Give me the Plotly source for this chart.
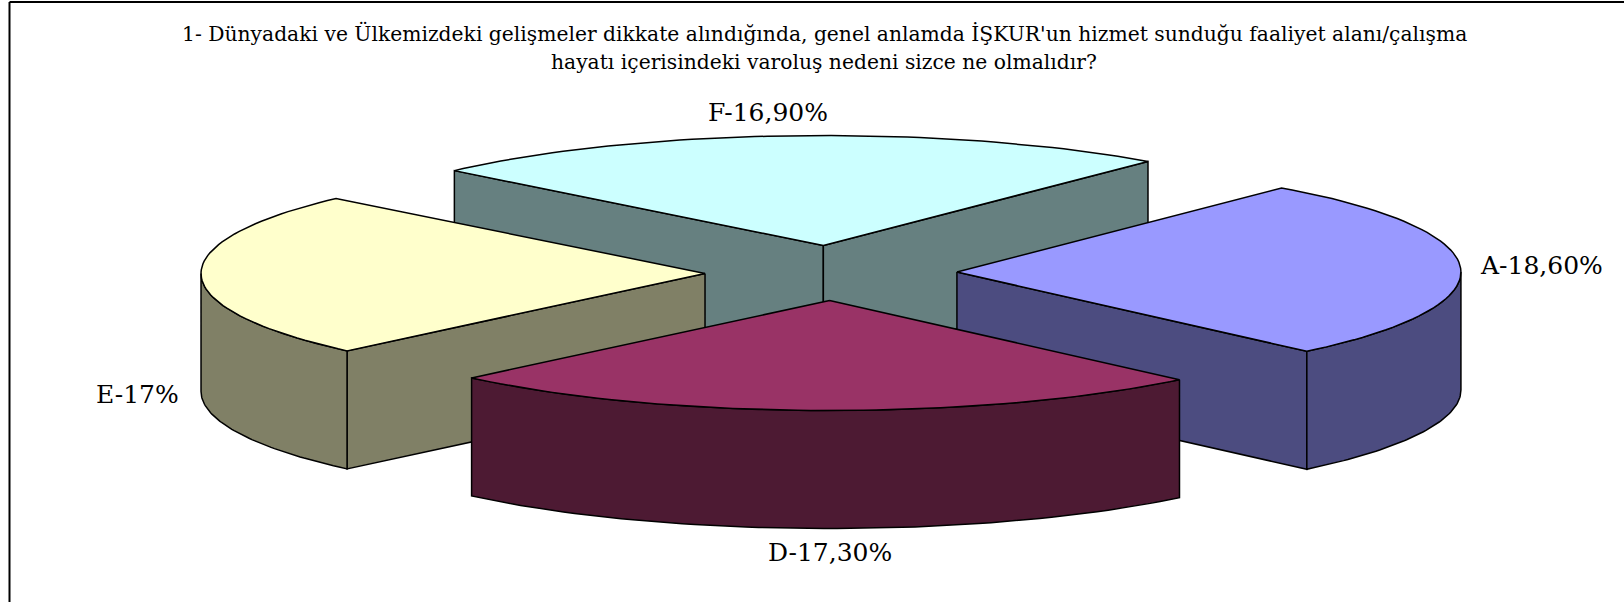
import math
import plotly.graph_objects as go

# --- data (clockwise order, starting at the upper right) ---
categories = ["A", "D", "E", "F"]
values = [18.6, 17.3, 17.0, 16.9]
labels = ["A-18,60%", "D-17,30%", "E-17%", "F-16,90%"]
top_colors = ["#9999FF", "#993366", "#FFFFCC", "#CCFFFF"]
side_colors = ["#4C4C80", "#4D1A33", "#808066", "#668080"]
title_lines = [
    "1- Dünyadaki ve Ülkemizdeki gelişmeler dikkate alındığında, genel anlamda İŞKUR'un hizmet sunduğu faaliyet alanı/çalışma",
    "hayatı içerisindeki varoluş nedeni sizce ne olmalıdır?",
]
label_anchors = {
    "A": (1478, 265, "left"),
    "D": (830, 552, "center"),
    "E": (181, 394, "right"),
    "F": (768, 112, "center"),
}

# --- projection of the exploded 3D pie ---
CX, CY = 831, 273
RX, RY = 504, 110
DEPTH = 118
EXPLODE = 0.25
START_DEG = 49.9
FONT = "DejaVu Serif"
INK = "#000000"


def rim(cx, cy, a, b, drop=0.0, n=60):
    xs, ys = [], []
    for i in range(n + 1):
        t = math.radians(a + (b - a) * i / n)
        xs.append(cx + RX * math.cos(t))
        ys.append(cy - RY * math.sin(t) + drop)
    return xs, ys


def face(xs, ys, color, name):
    return go.Scatter(
        x=xs + xs[:1], y=ys + ys[:1], mode="lines", fill="toself",
        fillcolor=color, line=dict(color=INK, width=1.5),
        name=name, hoverinfo="name", showlegend=False,
    )


total = sum(values)
slices = []
angle = START_DEG
for cat, val, top, side in zip(categories, values, top_colors, side_colors):
    span = val / total * 360
    a, b = angle, angle - span
    angle = b
    mid = math.radians((a + b) / 2)
    slices.append(dict(
        cat=cat, a=a, b=b, mid=mid, top=top, side=side,
        cx=CX + EXPLODE * RX * math.cos(mid),
        cy=CY - EXPLODE * RY * math.sin(mid),
    ))

fig = go.Figure()
# painter's order: farthest slice first
for s in sorted(slices, key=lambda d: -math.sin(d["mid"])):
    cx, cy, a, b = s["cx"], s["cy"], s["a"], s["b"]
    # radial cut walls that face the viewer
    for edge, visible in ((a, math.cos(math.radians(a)) < 0), (b, math.cos(math.radians(b)) > 0)):
        if visible:
            ex = cx + RX * math.cos(math.radians(edge))
            ey = cy - RY * math.sin(math.radians(edge))
            fig.add_trace(face([cx, ex, ex, cx], [cy, ey, ey + DEPTH, cy + DEPTH],
                               s["side"], s["cat"] + " wall"))
    # outer curved wall: only the part on the lower half of the ellipse
    hi = min(a, 0) if a > -180 else a
    lo = max(b, -180)
    if hi > lo:
        tx, ty = rim(cx, cy, hi, lo)
        bx, by = rim(cx, cy, lo, hi, DEPTH)
        fig.add_trace(face(tx + bx, ty + by, s["side"], s["cat"] + " rim"))
    # top face
    tx, ty = rim(cx, cy, a, b)
    fig.add_trace(face([cx] + tx, [cy] + ty, s["top"], s["cat"]))

annotations = []
for cat, text in zip(categories, labels):
    x, y, anchor = label_anchors[cat]
    annotations.append(dict(x=x, y=y, xref="x", yref="y", text=text, showarrow=False,
                            xanchor=anchor, yanchor="middle",
                            font=dict(family=FONT, size=25, color="#000000")))
for line, y in zip(title_lines, (33, 62)):
    annotations.append(dict(x=824, y=y, xref="x", yref="y", text=line, showarrow=False,
                            xanchor="center", yanchor="middle",
                            font=dict(family=FONT, size=20.3, color="#000000")))

fig.update_layout(
    width=1624, height=602, autosize=False,
    margin=dict(l=0, r=0, t=0, b=0),
    paper_bgcolor="#FFFFFF", plot_bgcolor="#FFFFFF",
    xaxis=dict(range=[0, 1624], visible=False, fixedrange=True),
    yaxis=dict(range=[602, 0], visible=False, fixedrange=True),
    annotations=annotations,
    shapes=[
        dict(type="line", xref="x", yref="y", x0=9.5, x1=9.5, y0=2, y1=602,
             line=dict(color="#000000", width=2)),
        dict(type="line", xref="x", yref="y", x0=9.5, x1=1624, y0=2, y1=2,
             line=dict(color="#000000", width=2)),
    ],
)
fig.write_html(
    "out.html",
    config={"displayModeBar": False},
    post_script="document.body.style.margin='0';document.documentElement.style.overflow='hidden';",
)
